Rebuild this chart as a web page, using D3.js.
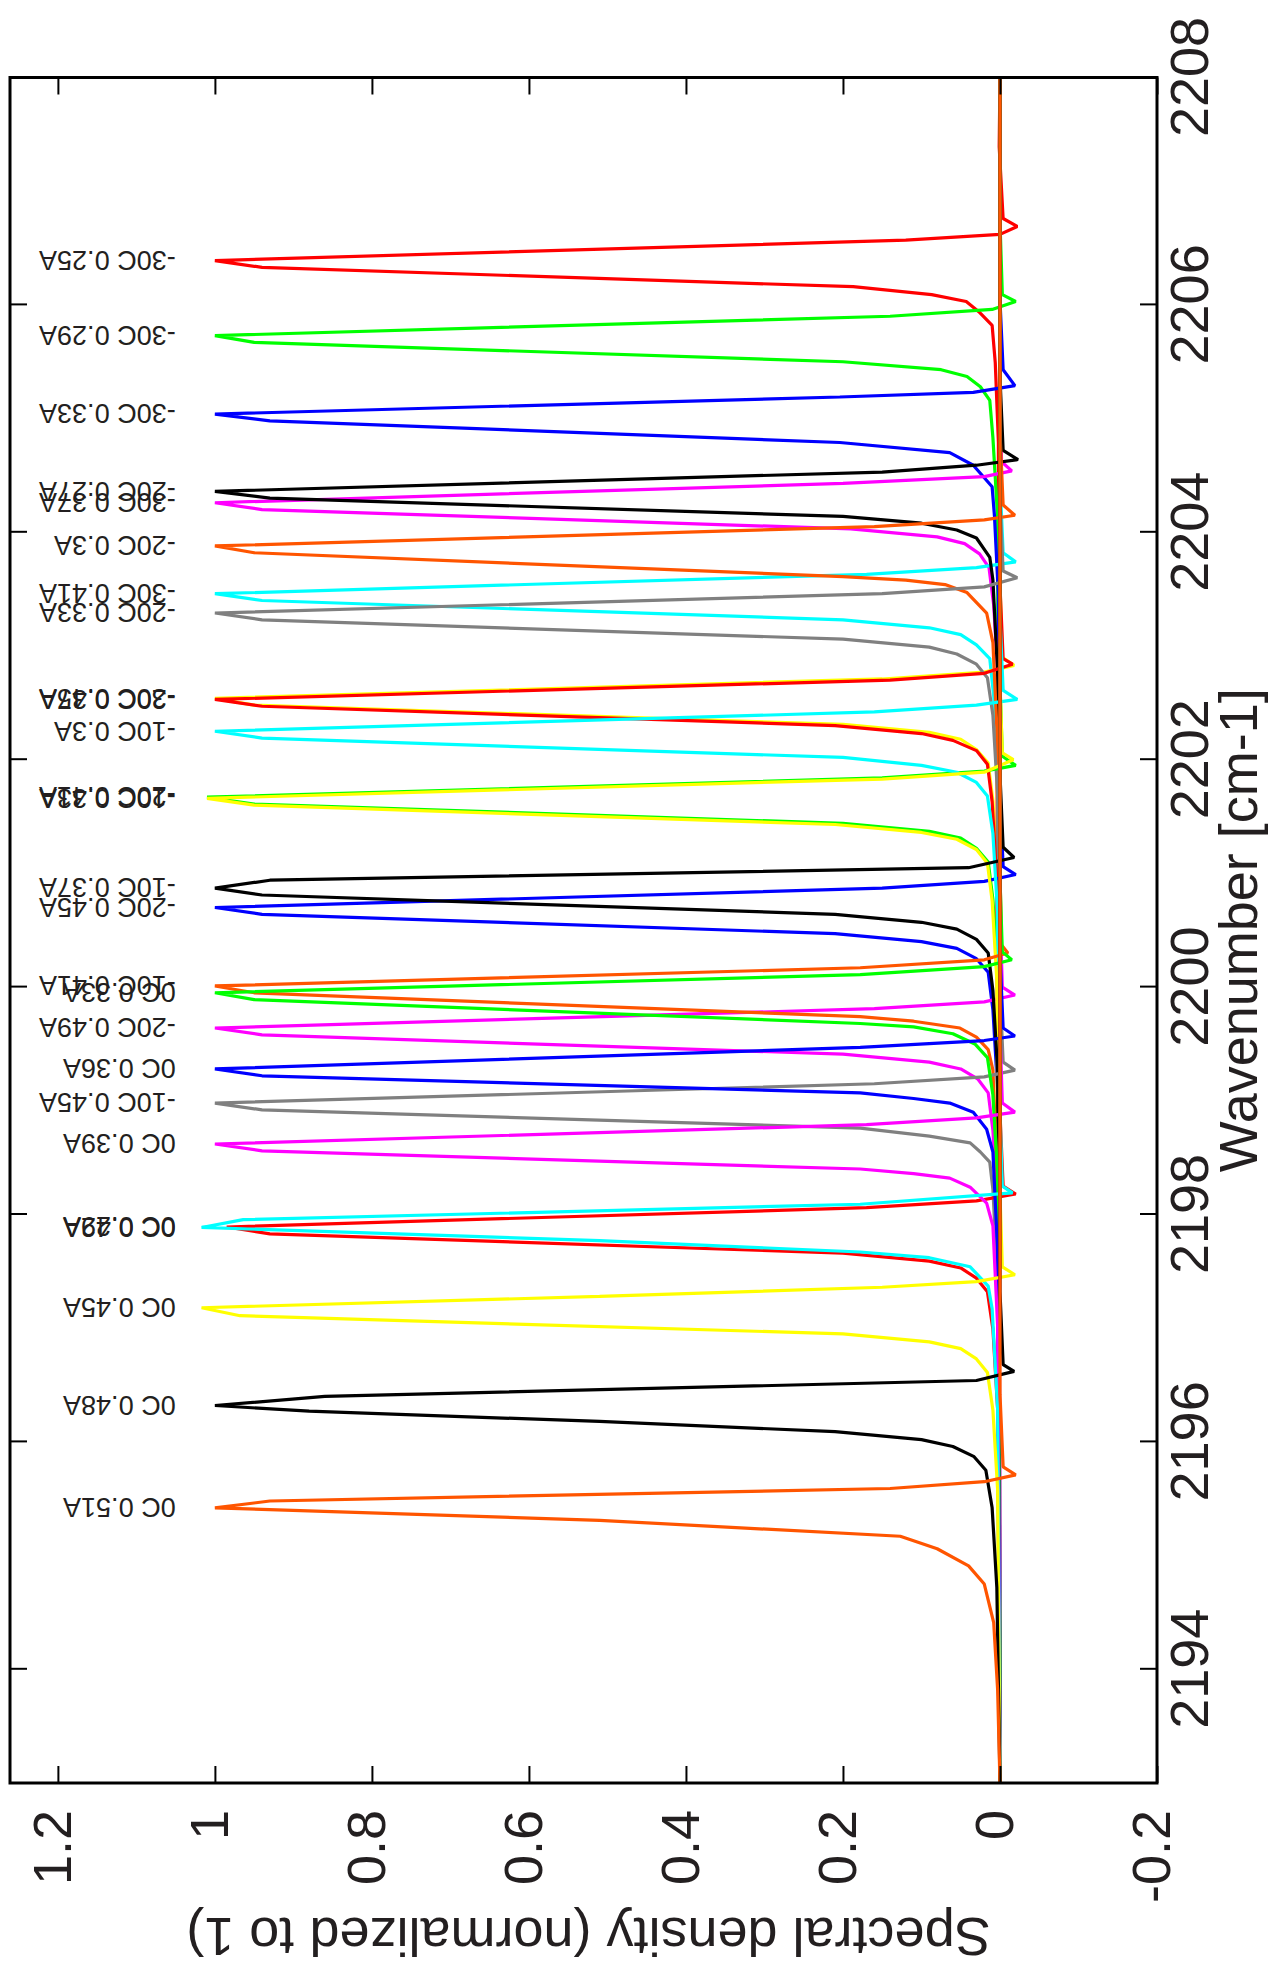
<!DOCTYPE html>
<html>
<head>
<meta charset="utf-8">
<script src="https://cdn.jsdelivr.net/npm/d3@7"></script>
<style>
  body { margin: 0; background: #fff; }
  svg { display: block; }
  text { font-family: "Liberation Sans", Arial, Helvetica, sans-serif; fill: #231f20; }
</style>
</head>
<body>
<svg id="chart" width="1280" height="1973"></svg>
<script>
// tick values
const xTicks = [2194, 2196, 2198, 2200, 2202, 2204, 2206, 2208];
const yTicks = [-0.2, 0, 0.2, 0.4, 0.6, 0.8, 1.0, 1.2];

// series labels, in plot order
const labels = [
  "-30C 0.25A", "-30C 0.29A", "-30C 0.33A", "-30C 0.37A", "-30C 0.41A", "-30C 0.45A",
  "-20C 0.27A", "-20C 0.3A", "-20C 0.33A", "-20C 0.37A", "-20C 0.41A", "-20C 0.45A", "-20C 0.49A",
  "-10C 0.3A", "-10C 0.33A", "-10C 0.37A", "-10C 0.41A", "-10C 0.45A",
  "0C 0.29A", "0C 0.33A", "0C 0.36A", "0C 0.39A", "0C 0.42A", "0C 0.45A", "0C 0.48A", "0C 0.51A"
];

// spectra: [wavenumber, normalized density]
const s01 = [[2193.0,0.000],[2204.79,0.002],[2205.49,0.006],[2205.82,0.010],[2205.94,0.027],[2206.03,0.043],[2206.09,0.087],[2206.16,0.187],[2206.33,0.940],[2206.39,1.000],[2206.57,0.120],[2206.62,0.000],[2206.69,-0.022],[2206.76,-0.004],[2207.39,0.001],[2208.0,0.000]];
const s02 = [[2193.0,0.000],[2204.13,0.003],[2204.83,0.009],[2205.16,0.013],[2205.28,0.025],[2205.37,0.042],[2205.43,0.075],[2205.50,0.200],[2205.67,0.950],[2205.73,1.000],[2205.90,0.140],[2205.96,0.010],[2206.03,-0.020],[2206.09,-0.003],[2206.73,0.000],[2208.0,0.000]];
const s03 = [[2193.0,0.000],[2203.44,0.002],[2204.14,0.007],[2204.40,0.010],[2204.59,0.034],[2204.70,0.064],[2204.79,0.204],[2204.98,0.930],[2205.04,1.000],[2205.19,0.204],[2205.23,0.034],[2205.29,-0.019],[2205.43,-0.004],[2206.04,0.000],[2208.0,0.000]];
const s04 = [[2193.0,0.000],[2202.66,0.002],[2203.36,0.008],[2203.69,0.014],[2203.81,0.026],[2203.90,0.045],[2203.96,0.080],[2204.03,0.190],[2204.20,0.940],[2204.26,1.000],[2204.43,0.200],[2204.49,0.020],[2204.54,-0.015],[2204.62,-0.002],[2205.26,0.000],[2208.0,0.000]];
const s05 = [[2193.0,0.000],[2201.86,0.003],[2202.56,0.008],[2202.89,0.013],[2203.01,0.030],[2203.10,0.050],[2203.16,0.090],[2203.23,0.200],[2203.40,0.940],[2203.46,1.000],[2203.63,0.170],[2203.69,0.030],[2203.74,-0.020],[2203.82,-0.004],[2204.46,0.000],[2208.0,0.000]];
const s06 = [[2193.0,0.000],[2200.94,0.003],[2201.64,0.009],[2201.97,0.015],[2202.09,0.030],[2202.18,0.050],[2202.24,0.090],[2202.31,0.200],[2202.48,0.950],[2202.54,1.000],[2202.71,0.150],[2202.77,0.020],[2202.83,-0.018],[2202.90,-0.003],[2203.54,0.000],[2208.0,0.000]];
const s07 = [[2193.0,0.000],[2202.76,0.003],[2203.58,0.009],[2203.78,0.013],[2203.95,0.030],[2204.02,0.055],[2204.08,0.100],[2204.14,0.200],[2204.30,0.930],[2204.36,1.000],[2204.53,0.150],[2204.59,0.030],[2204.64,-0.023],[2204.72,-0.004],[2205.36,0.000],[2208.0,0.000]];
const s08 = [[2193.0,0.000],[2202.28,0.004],[2203.03,0.009],[2203.29,0.017],[2203.47,0.042],[2203.54,0.070],[2203.58,0.120],[2203.61,0.200],[2203.82,0.950],[2203.88,1.000],[2204.05,0.160],[2204.11,0.020],[2204.15,-0.019],[2204.24,-0.004],[2204.88,0.000],[2208.0,0.000]];
const s09 = [[2193.0,0.000],[2201.69,0.003],[2202.39,0.009],[2202.72,0.016],[2202.84,0.030],[2202.93,0.055],[2202.99,0.090],[2203.06,0.200],[2203.23,0.940],[2203.29,1.000],[2203.46,0.150],[2203.52,0.020],[2203.60,-0.022],[2203.66,-0.004],[2204.29,0.000],[2208.0,0.000]];
const s10 = [[2193.0,0.000],[2200.93,0.004],[2201.63,0.010],[2201.96,0.016],[2202.08,0.030],[2202.17,0.060],[2202.23,0.100],[2202.30,0.210],[2202.47,0.940],[2202.53,1.000],[2202.70,0.140],[2202.76,0.020],[2202.84,-0.016],[2202.89,-0.004],[2203.53,0.000],[2208.0,0.000]];
const s11 = [[2193.0,0.000],[2200.07,0.003],[2200.77,0.009],[2201.10,0.015],[2201.22,0.030],[2201.31,0.050],[2201.37,0.090],[2201.44,0.200],[2201.61,0.950],[2201.67,1.010],[2201.84,0.150],[2201.90,0.020],[2201.95,-0.020],[2202.03,-0.003],[2202.67,0.000],[2208.0,0.000]];
const s12 = [[2193.0,0.000],[2199.10,0.003],[2199.80,0.009],[2200.13,0.015],[2200.25,0.030],[2200.34,0.055],[2200.40,0.100],[2200.47,0.210],[2200.64,0.940],[2200.70,1.000],[2200.87,0.150],[2200.93,0.020],[2200.99,-0.020],[2201.06,-0.004],[2201.70,0.000],[2208.0,0.000]];
const s13 = [[2193.0,0.000],[2198.04,0.003],[2198.74,0.009],[2199.07,0.015],[2199.19,0.028],[2199.28,0.050],[2199.34,0.090],[2199.41,0.200],[2199.58,0.940],[2199.64,1.000],[2199.81,0.160],[2199.87,0.020],[2199.93,-0.019],[2200.00,-0.003],[2200.64,0.000],[2208.0,0.000]];
const s14 = [[2193.0,0.000],[2200.65,0.003],[2201.35,0.009],[2201.68,0.016],[2201.80,0.030],[2201.89,0.055],[2201.95,0.100],[2202.02,0.200],[2202.19,0.940],[2202.25,1.000],[2202.42,0.160],[2202.48,0.030],[2202.53,-0.022],[2202.61,-0.004],[2203.25,0.000],[2208.0,0.000]];
const s15 = [[2193.0,0.000],[2200.06,0.004],[2200.76,0.010],[2201.09,0.016],[2201.21,0.030],[2201.30,0.055],[2201.36,0.100],[2201.43,0.210],[2201.60,0.950],[2201.66,1.010],[2201.83,0.150],[2201.89,0.020],[2202.00,-0.017],[2202.06,-0.003],[2202.66,0.000],[2208.0,0.000]];
const s16 = [[2193.0,0.000],[2199.27,0.003],[2199.97,0.009],[2200.30,0.015],[2200.42,0.030],[2200.51,0.055],[2200.57,0.100],[2200.64,0.210],[2200.81,0.940],[2200.87,1.000],[2200.94,0.930],[2201.05,0.040],[2201.14,-0.018],[2201.23,-0.004],[2201.87,0.000],[2208.0,0.000]];
const s17 = [[2193.0,0.000],[2198.41,0.004],[2199.27,0.009],[2199.45,0.015],[2199.56,0.030],[2199.64,0.051],[2199.70,0.110],[2199.74,0.178],[2199.95,0.950],[2200.01,1.000],[2200.17,0.178],[2200.24,0.020],[2200.30,-0.010],[2200.37,-0.002],[2201.01,0.000],[2208.0,0.000]];
const s18 = [[2193.0,0.000],[2197.38,0.003],[2198.22,0.009],[2198.46,0.013],[2198.55,0.025],[2198.63,0.038],[2198.69,0.090],[2198.76,0.178],[2198.92,0.940],[2198.98,1.000],[2199.15,0.160],[2199.21,0.020],[2199.27,-0.019],[2199.34,-0.004],[2199.98,0.000],[2208.0,0.000]];
const s19 = [[2193.0,0.000],[2196.29,0.003],[2196.99,0.009],[2197.32,0.016],[2197.44,0.030],[2197.53,0.050],[2197.59,0.090],[2197.66,0.200],[2197.83,0.930],[2197.89,0.985],[2198.06,0.170],[2198.12,0.030],[2198.18,-0.020],[2198.25,-0.004],[2198.89,0.000],[2208.0,0.000]];
const s20 = [[2193.0,0.000],[2198.35,0.003],[2199.05,0.009],[2199.38,0.016],[2199.50,0.032],[2199.59,0.060],[2199.65,0.110],[2199.68,0.178],[2199.89,0.950],[2199.95,1.000],[2200.11,0.178],[2200.18,0.020],[2200.24,-0.015],[2200.31,-0.003],[2200.95,0.000],[2208.0,0.000]];
const s21 = [[2193.0,0.000],[2197.68,0.003],[2198.55,0.009],[2198.75,0.017],[2198.90,0.034],[2198.98,0.064],[2199.02,0.110],[2199.07,0.178],[2199.22,0.940],[2199.28,1.000],[2199.47,0.178],[2199.53,0.020],[2199.57,-0.019],[2199.64,-0.004],[2200.28,0.000],[2208.0,0.000]];
const s22 = [[2193.0,0.000],[2197.02,0.003],[2197.90,0.009],[2198.10,0.017],[2198.24,0.038],[2198.32,0.064],[2198.36,0.110],[2198.40,0.178],[2198.56,0.940],[2198.62,1.000],[2198.79,0.170],[2198.85,0.030],[2198.90,-0.019],[2198.98,-0.003],[2199.62,0.000],[2208.0,0.000]];
const s23 = [[2193.0,0.000],[2196.29,0.003],[2197.17,0.010],[2197.37,0.015],[2197.54,0.038],[2197.62,0.090],[2197.67,0.178],[2197.77,0.510],[2197.886,1.017],[2197.955,0.964],[2198.09,0.178],[2198.19,-0.016],[2198.25,-0.003],[2198.89,0.000],[2208.0,0.000]];
const s24 = [[2193.0,0.000],[2195.58,0.003],[2196.28,0.009],[2196.61,0.016],[2196.73,0.030],[2196.82,0.050],[2196.88,0.090],[2196.95,0.200],[2197.11,0.968],[2197.18,1.017],[2197.28,0.510],[2197.36,0.150],[2197.41,0.030],[2197.47,-0.019],[2197.54,-0.003],[2198.18,0.000],[2208.0,0.000]];
const s25 = [[2193.0,0.000],[2194.72,0.004],[2195.42,0.010],[2195.75,0.018],[2195.87,0.033],[2195.96,0.060],[2196.02,0.100],[2196.09,0.210],[2196.18,0.510],[2196.27,0.880],[2196.32,1.000],[2196.40,0.860],[2196.54,0.030],[2196.62,-0.018],[2196.68,-0.004],[2197.32,0.000],[2208.0,0.000]];
const s26 = [[2193.0,0.000],[2193.82,0.003],[2194.41,0.008],[2194.75,0.020],[2194.91,0.040],[2195.06,0.080],[2195.17,0.127],[2195.31,0.510],[2195.42,1.000],[2195.48,0.930],[2195.59,0.140],[2195.65,0.020],[2195.71,-0.020],[2195.78,-0.004],[2196.42,0.000],[2208.0,0.000]];

const spectra = [s01, s02, s03, s04, s05, s06, s07, s08, s09, s10, s11, s12, s13,
                 s14, s15, s16, s17, s18, s19, s20, s21, s22, s23, s24, s25, s26];

// gnuplot style line colours, cycling
const palette = ["#ff0000", "#00ff00", "#0000ff", "#ff00ff", "#00ffff", "#ffff00", "#000000", "#ff5500", "#808080"];

const labelAt = 1.05;   // density where the peak labels start

// the plot is drawn upright and then turned a quarter turn to the left
const W = 1973;
const margin = {left: 190, right: 77.5, top: 10, bottom: 123};
const plotW = W - margin.left - margin.right;
const plotH = 1280 - margin.top - margin.bottom;

const svg = d3.select("#chart");
svg.append("rect").attr("width", 1280).attr("height", 1973).attr("fill", "#fff");

const g = svg.append("g")
  .attr("transform", `translate(0,${W}) rotate(-90)`);

const x = d3.scaleLinear().domain([2193, 2208]).range([margin.left, margin.left + plotW]);
const y = d3.scaleLinear().domain([-0.2, 1.261]).range([margin.top + plotH, margin.top]);

// curves
const line = d3.line()
  .x(d => x(d[0]))
  .y(d => y(d[1]));

g.append("g")
  .selectAll("path")
  .data(spectra)
  .join("path")
    .attr("d", line)
    .attr("fill", "none")
    .attr("stroke", (d, i) => palette[i % palette.length])
    .attr("stroke-width", 3.2)
    .attr("stroke-linejoin", "bevel");

// peak labels
g.append("g")
  .selectAll("text")
  .data(spectra)
  .join("text")
    .attr("transform", d => {
      const top = d.reduce((a, b) => (b[1] > a[1] ? b : a));
      return `translate(${x(top[0])},${y(labelAt)}) rotate(-90)`;
    })
    .attr("dy", "0.36em")
    .attr("font-size", 27)
    .text((d, i) => labels[i]);

// axes
const fmtY = d => (Math.abs(d) < 1e-9 ? "0" : String(+d.toFixed(1)));

const axBottom = g.append("g")
  .attr("transform", `translate(0,${margin.top + plotH})`)
  .call(d3.axisBottom(x).tickValues(xTicks).tickSize(-17).tickPadding(13).tickFormat(d3.format("d")));

const axTop = g.append("g")
  .attr("transform", `translate(0,${margin.top})`)
  .call(d3.axisTop(x).tickValues(xTicks).tickSize(-17).tickFormat(""));

const axLeft = g.append("g")
  .attr("transform", `translate(${margin.left},0)`)
  .call(d3.axisLeft(y).tickValues(yTicks).tickSize(-17).tickPadding(27).tickFormat(fmtY));

const axRight = g.append("g")
  .attr("transform", `translate(${margin.left + plotW},0)`)
  .call(d3.axisRight(y).tickValues(yTicks).tickSize(-17).tickFormat(""));

[axBottom, axTop, axLeft, axRight].forEach(a => {
  a.select(".domain").remove();
  a.selectAll(".tick line").attr("stroke", "#000").attr("stroke-width", 2);
  a.selectAll(".tick text")
    .attr("font-size", 54)
    .attr("fill", "#231f20")
    .style("font-family", '"Liberation Sans", Arial, sans-serif');
});
axLeft.selectAll(".tick text").attr("dy", "0.24em");

// frame
g.append("rect")
  .attr("x", margin.left)
  .attr("y", margin.top)
  .attr("width", plotW)
  .attr("height", plotH)
  .attr("fill", "none")
  .attr("stroke", "#000")
  .attr("stroke-width", 3);

// axis titles
g.append("text")
  .attr("x", margin.left + plotW / 2)
  .attr("y", 1257)
  .attr("text-anchor", "middle")
  .attr("font-size", 54)
  .text("Wavenumber [cm-1]");

g.append("text")
  .attr("transform", `translate(55,${margin.top + plotH / 2 + 5}) rotate(-90)`)
  .attr("text-anchor", "middle")
  .attr("font-size", 54)
  .text("Spectral density (normalized to 1)");
</script>
</body>
</html>
